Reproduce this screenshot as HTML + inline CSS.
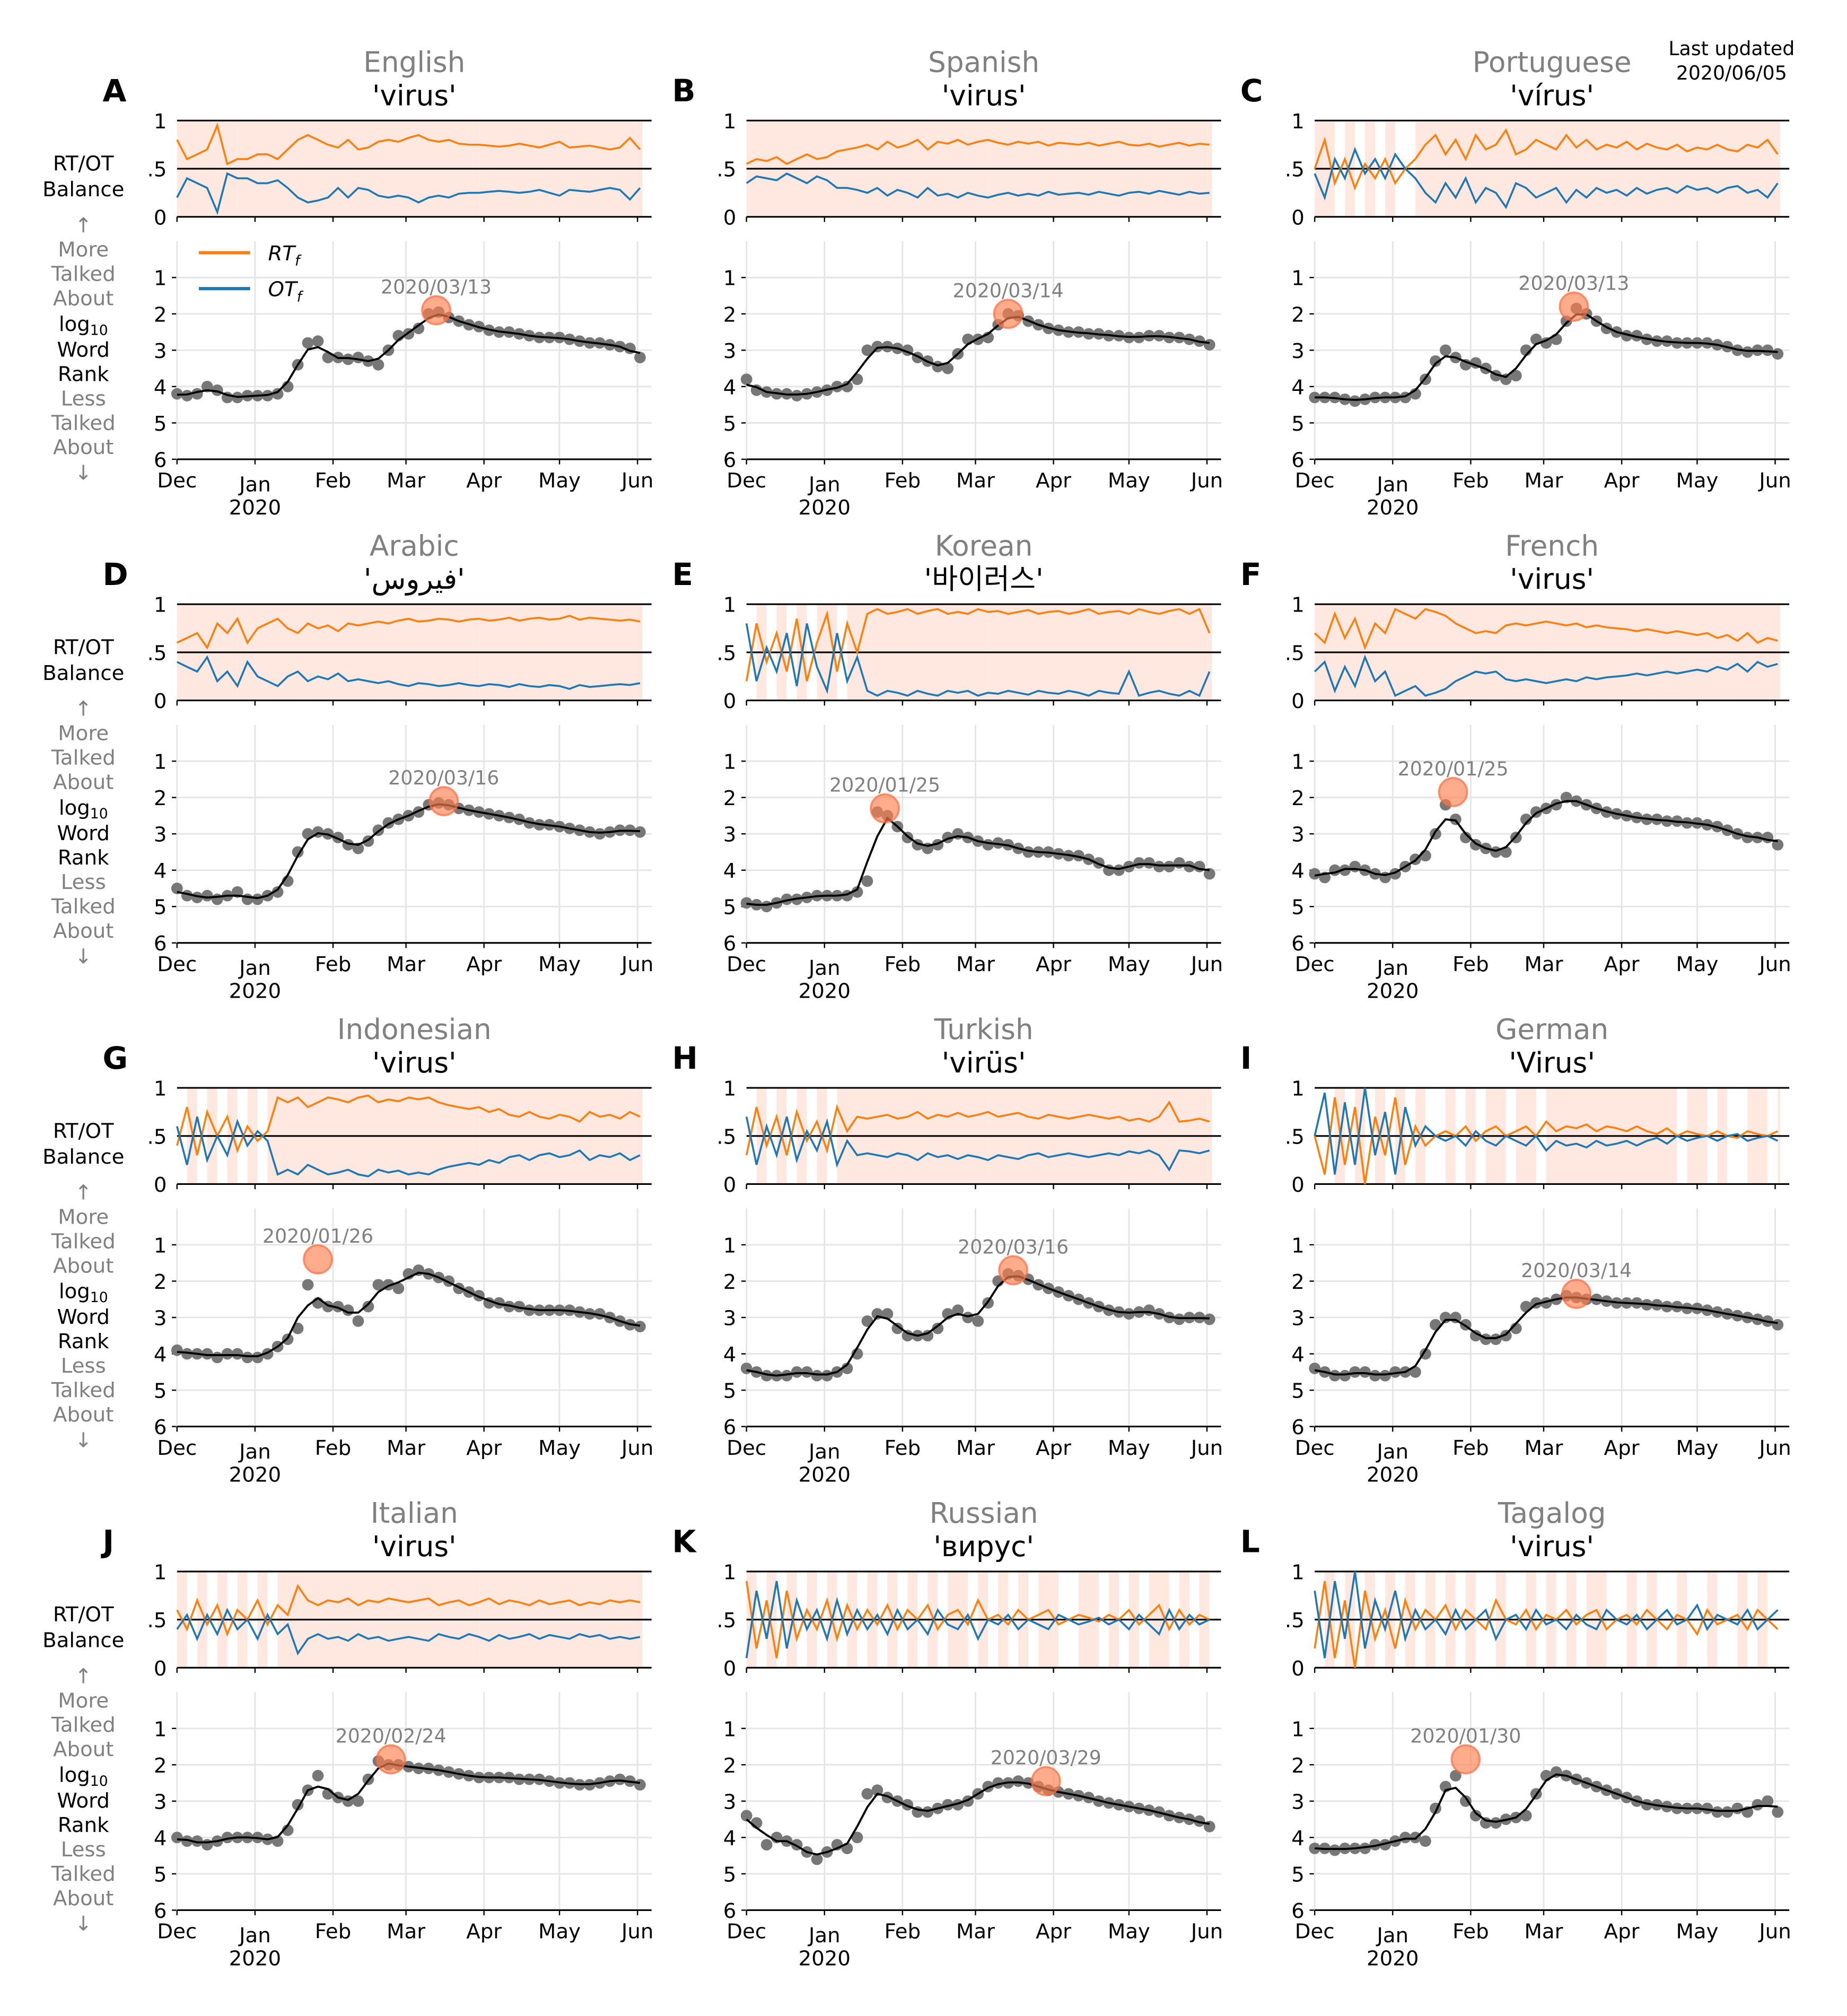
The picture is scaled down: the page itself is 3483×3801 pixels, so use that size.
<!DOCTYPE html>
<html><head><meta charset="utf-8"><style>
html,body{margin:0;padding:0;background:#fff;}
svg{display:block;font-family:"DejaVu Sans","Liberation Sans","Noto Sans CJK KR",sans-serif;}
</style></head><body>
<svg id="fig" xmlns="http://www.w3.org/2000/svg" width="3483" height="3801" viewBox="0 0 1440 1571.5">
<rect width="1440" height="1571.5" fill="#fff"/>
<text x="1350" y="43" font-size="15" text-anchor="middle">Last updated</text>
<text x="1350" y="62" font-size="15" text-anchor="middle">2020/06/05</text>
</svg>
<script>
const panelLetters=["A","B","C","D","E","F","G","H","I","J","K","L"];
const languages=["English","Spanish","Portuguese","Arabic","Korean","French","Indonesian","Turkish","German","Italian","Russian","Tagalog"];
const words=["'virus'","'virus'","'vírus'","'فيروس'","'바이러스'","'virus'","'virus'","'virüs'","'Virus'","'virus'","'вирус'","'virus'"];
const peakDates=["2020/03/13","2020/03/14","2020/03/13","2020/03/16","2020/01/25","2020/01/25","2020/01/26","2020/03/16","2020/03/14","2020/02/24","2020/03/29","2020/01/30"];
const peakDays=[103,104,103,106,55,55,56,106,104,85,119,60];
const peakRanks=[1.9,2.0,1.8,2.1,2.3,1.85,1.4,1.7,2.35,1.85,2.45,1.85];
const sampleStepDays=4;
const monthLabels=["Dec","Jan","Feb","Mar","Apr","May","Jun"];
const monthDays=[0,31,62,91,122,152,183];
const rankTicks=[1,2,3,4,5,6];
const balanceTicks=[1,0.5,0];
const balanceTickLabels=["1",".5","0"];
const rankA=[4.2,4.25,4.2,4.0,4.1,4.3,4.3,4.25,4.25,4.25,4.2,4.0,3.4,2.8,2.75,3.2,3.2,3.25,3.2,3.3,3.4,3.0,2.6,2.55,2.4,2.0,1.95,2.1,2.2,2.3,2.35,2.45,2.5,2.5,2.55,2.6,2.65,2.65,2.65,2.7,2.75,2.8,2.8,2.85,2.9,2.95,3.2];
const rankB=[3.8,4.1,4.15,4.2,4.2,4.25,4.2,4.15,4.1,4.0,4.0,3.8,3.0,2.9,2.9,2.95,3.0,3.2,3.3,3.45,3.5,3.1,2.7,2.7,2.65,2.3,2.0,2.05,2.2,2.3,2.4,2.45,2.5,2.5,2.55,2.55,2.6,2.6,2.65,2.65,2.6,2.6,2.65,2.65,2.7,2.75,2.85];
const rankC=[4.3,4.3,4.3,4.35,4.4,4.35,4.3,4.3,4.3,4.3,4.2,3.8,3.3,3.0,3.2,3.4,3.35,3.5,3.7,3.8,3.7,3.0,2.7,2.8,2.7,2.2,1.85,2.0,2.2,2.4,2.5,2.6,2.6,2.7,2.75,2.75,2.8,2.8,2.8,2.8,2.85,2.9,3.0,3.05,3.0,3.0,3.1];
const rankD=[4.5,4.7,4.75,4.7,4.8,4.7,4.6,4.8,4.8,4.7,4.6,4.3,3.5,3.0,2.95,3.0,3.1,3.3,3.4,3.2,2.9,2.7,2.6,2.5,2.4,2.2,2.15,2.2,2.3,2.35,2.4,2.45,2.5,2.55,2.6,2.7,2.75,2.75,2.8,2.85,2.9,2.95,3.0,2.95,2.9,2.9,2.95];
const rankE=[4.9,4.95,5.0,4.9,4.8,4.8,4.75,4.7,4.7,4.7,4.7,4.6,4.3,2.4,2.5,2.8,3.1,3.3,3.4,3.3,3.1,3.0,3.1,3.2,3.3,3.25,3.3,3.4,3.5,3.5,3.5,3.55,3.6,3.6,3.7,3.8,4.0,4.0,3.9,3.8,3.8,3.9,3.9,3.8,3.9,3.9,4.1];
const rankF=[4.1,4.2,4.0,4.0,3.9,4.0,4.1,4.2,4.1,3.9,3.7,3.6,3.0,2.2,2.6,3.1,3.3,3.4,3.5,3.5,3.1,2.6,2.4,2.3,2.2,2.0,2.1,2.2,2.3,2.4,2.45,2.5,2.55,2.6,2.6,2.65,2.65,2.7,2.7,2.75,2.8,2.9,3.0,3.1,3.1,3.1,3.3];
const rankG=[3.9,4.0,4.0,4.0,4.1,4.0,4.0,4.1,4.1,4.0,3.8,3.6,3.3,2.1,2.6,2.7,2.7,2.8,3.1,2.7,2.1,2.1,2.2,1.8,1.7,1.8,1.9,2.0,2.2,2.3,2.4,2.6,2.6,2.7,2.7,2.8,2.8,2.8,2.8,2.8,2.85,2.9,2.9,3.0,3.1,3.2,3.25];
const rankH=[4.4,4.5,4.6,4.6,4.6,4.5,4.5,4.6,4.6,4.5,4.4,4.0,3.1,2.9,2.9,3.3,3.5,3.5,3.5,3.3,2.9,2.8,3.0,3.1,2.6,2.0,1.8,1.85,1.95,2.1,2.2,2.3,2.4,2.5,2.6,2.7,2.8,2.85,2.9,2.85,2.8,2.9,3.0,3.05,3.0,3.0,3.05];
const rankI=[4.4,4.5,4.6,4.6,4.5,4.5,4.6,4.6,4.5,4.5,4.5,4.0,3.2,3.0,3.0,3.2,3.5,3.6,3.6,3.5,3.3,2.7,2.6,2.6,2.5,2.4,2.45,2.5,2.5,2.55,2.6,2.6,2.6,2.65,2.65,2.7,2.7,2.75,2.75,2.8,2.85,2.9,2.95,3.0,3.05,3.1,3.2];
const rankJ=[4.0,4.1,4.1,4.2,4.1,4.0,4.0,4.0,4.0,4.05,4.1,3.8,3.1,2.7,2.3,2.8,2.9,3.0,3.0,2.4,1.9,2.0,2.0,2.05,2.1,2.1,2.15,2.2,2.25,2.3,2.35,2.35,2.35,2.35,2.4,2.4,2.4,2.45,2.5,2.5,2.55,2.55,2.5,2.45,2.4,2.45,2.55];
const rankK=[3.4,3.6,4.2,4.0,4.1,4.2,4.4,4.6,4.4,4.2,4.3,4.0,2.8,2.7,2.9,3.0,3.1,3.3,3.3,3.2,3.1,3.1,3.0,2.8,2.6,2.5,2.5,2.45,2.5,2.6,2.7,2.75,2.8,2.85,2.9,3.0,3.05,3.1,3.15,3.2,3.25,3.3,3.4,3.45,3.5,3.55,3.7];
const rankL=[4.3,4.3,4.35,4.3,4.3,4.3,4.2,4.2,4.1,4.0,4.0,4.1,3.2,2.6,2.3,3.0,3.4,3.6,3.6,3.5,3.45,3.4,2.8,2.3,2.2,2.3,2.4,2.5,2.6,2.7,2.8,2.9,3.0,3.1,3.1,3.15,3.2,3.2,3.2,3.2,3.3,3.3,3.2,3.3,3.1,3.0,3.3];
const rtA=[0.8,0.6,0.65,0.7,0.95,0.55,0.6,0.6,0.65,0.65,0.6,0.7,0.8,0.85,0.8,0.75,0.72,0.8,0.7,0.72,0.78,0.8,0.78,0.82,0.85,0.8,0.78,0.8,0.76,0.75,0.75,0.74,0.73,0.74,0.76,0.74,0.72,0.75,0.78,0.72,0.73,0.74,0.72,0.7,0.72,0.82,0.7];
const otA=[0.2,0.4,0.35,0.3,0.05,0.45,0.4,0.4,0.35,0.35,0.38,0.3,0.2,0.15,0.17,0.2,0.3,0.2,0.3,0.28,0.22,0.2,0.22,0.2,0.15,0.2,0.22,0.2,0.24,0.25,0.25,0.26,0.27,0.26,0.25,0.26,0.28,0.25,0.22,0.28,0.27,0.26,0.28,0.3,0.28,0.18,0.3];
const rtB=[0.55,0.6,0.58,0.62,0.55,0.6,0.65,0.6,0.62,0.68,0.7,0.72,0.75,0.7,0.78,0.72,0.75,0.8,0.7,0.78,0.76,0.8,0.75,0.78,0.8,0.77,0.75,0.78,0.76,0.78,0.74,0.77,0.76,0.75,0.77,0.74,0.76,0.78,0.75,0.74,0.76,0.73,0.75,0.77,0.74,0.76,0.75];
const otB=[0.35,0.42,0.4,0.38,0.45,0.4,0.35,0.42,0.38,0.3,0.3,0.28,0.25,0.3,0.22,0.28,0.25,0.2,0.3,0.22,0.24,0.2,0.25,0.22,0.2,0.23,0.25,0.22,0.24,0.22,0.26,0.23,0.24,0.25,0.23,0.26,0.24,0.22,0.25,0.26,0.24,0.27,0.25,0.23,0.26,0.24,0.25];
const rtC=[0.5,0.8,0.35,0.6,0.3,0.55,0.4,0.6,0.35,0.5,0.6,0.75,0.85,0.65,0.8,0.6,0.85,0.7,0.75,0.9,0.65,0.7,0.8,0.75,0.7,0.85,0.72,0.8,0.7,0.75,0.72,0.78,0.7,0.76,0.72,0.7,0.75,0.68,0.72,0.7,0.75,0.7,0.68,0.75,0.72,0.8,0.65];
const otC=[0.45,0.2,0.6,0.4,0.7,0.45,0.6,0.4,0.65,0.5,0.4,0.25,0.15,0.35,0.2,0.4,0.15,0.3,0.25,0.1,0.35,0.3,0.2,0.25,0.3,0.15,0.28,0.2,0.3,0.25,0.28,0.22,0.3,0.24,0.28,0.3,0.25,0.32,0.28,0.3,0.25,0.3,0.32,0.25,0.28,0.2,0.35];
const rtD=[0.6,0.65,0.7,0.55,0.8,0.7,0.85,0.6,0.75,0.8,0.85,0.75,0.7,0.8,0.75,0.78,0.72,0.8,0.78,0.8,0.82,0.8,0.83,0.85,0.82,0.83,0.85,0.84,0.82,0.84,0.85,0.83,0.84,0.86,0.83,0.85,0.86,0.84,0.85,0.88,0.84,0.86,0.85,0.84,0.83,0.84,0.82];
const otD=[0.4,0.35,0.3,0.45,0.2,0.3,0.15,0.4,0.25,0.2,0.15,0.25,0.3,0.2,0.25,0.22,0.28,0.2,0.22,0.2,0.18,0.2,0.17,0.15,0.18,0.17,0.15,0.16,0.18,0.16,0.15,0.17,0.16,0.14,0.17,0.15,0.14,0.16,0.15,0.12,0.16,0.14,0.15,0.16,0.17,0.16,0.18];
const rtE=[0.2,0.8,0.4,0.7,0.3,0.85,0.2,0.6,0.9,0.3,0.8,0.5,0.9,0.95,0.9,0.92,0.95,0.9,0.93,0.95,0.9,0.92,0.9,0.95,0.92,0.93,0.9,0.92,0.94,0.9,0.92,0.93,0.9,0.92,0.95,0.9,0.92,0.93,0.9,0.95,0.92,0.9,0.93,0.95,0.9,0.95,0.7];
const otE=[0.8,0.2,0.55,0.3,0.7,0.15,0.8,0.35,0.1,0.7,0.2,0.45,0.1,0.05,0.1,0.08,0.05,0.1,0.07,0.05,0.1,0.08,0.1,0.05,0.08,0.07,0.1,0.08,0.06,0.1,0.08,0.07,0.1,0.08,0.05,0.1,0.08,0.07,0.3,0.05,0.08,0.1,0.07,0.05,0.1,0.05,0.3];
const rtF=[0.7,0.6,0.9,0.65,0.85,0.55,0.8,0.7,0.95,0.9,0.85,0.95,0.92,0.88,0.8,0.75,0.7,0.72,0.7,0.78,0.8,0.78,0.8,0.82,0.8,0.78,0.8,0.76,0.78,0.76,0.75,0.74,0.72,0.74,0.72,0.7,0.72,0.7,0.68,0.7,0.65,0.68,0.62,0.7,0.6,0.65,0.62];
const otF=[0.3,0.4,0.1,0.35,0.15,0.45,0.2,0.3,0.05,0.1,0.15,0.05,0.08,0.12,0.2,0.25,0.3,0.28,0.3,0.22,0.2,0.22,0.2,0.18,0.2,0.22,0.2,0.24,0.22,0.24,0.25,0.26,0.28,0.26,0.28,0.3,0.28,0.3,0.32,0.3,0.35,0.32,0.38,0.3,0.4,0.35,0.38];
const rtG=[0.4,0.8,0.3,0.75,0.5,0.7,0.35,0.6,0.45,0.55,0.9,0.85,0.9,0.8,0.85,0.9,0.88,0.85,0.9,0.92,0.85,0.88,0.86,0.9,0.88,0.9,0.85,0.82,0.8,0.78,0.8,0.75,0.78,0.72,0.7,0.75,0.7,0.68,0.72,0.7,0.65,0.75,0.7,0.72,0.68,0.75,0.7];
const otG=[0.6,0.2,0.7,0.25,0.5,0.3,0.65,0.4,0.55,0.45,0.1,0.15,0.1,0.2,0.15,0.1,0.12,0.15,0.1,0.08,0.15,0.12,0.14,0.1,0.12,0.1,0.15,0.18,0.2,0.22,0.2,0.25,0.22,0.28,0.3,0.25,0.3,0.32,0.28,0.3,0.35,0.25,0.3,0.28,0.32,0.25,0.3];
const rtH=[0.3,0.8,0.4,0.7,0.3,0.75,0.45,0.65,0.35,0.8,0.55,0.7,0.68,0.7,0.72,0.68,0.7,0.75,0.68,0.72,0.7,0.74,0.7,0.72,0.75,0.7,0.72,0.74,0.7,0.68,0.72,0.7,0.68,0.7,0.72,0.7,0.68,0.7,0.66,0.68,0.65,0.7,0.85,0.65,0.66,0.68,0.65];
const otH=[0.7,0.2,0.6,0.3,0.7,0.25,0.55,0.35,0.65,0.2,0.45,0.3,0.32,0.3,0.28,0.32,0.3,0.25,0.32,0.28,0.3,0.26,0.3,0.28,0.25,0.3,0.28,0.26,0.3,0.32,0.28,0.3,0.32,0.3,0.28,0.3,0.32,0.3,0.34,0.32,0.35,0.3,0.15,0.35,0.34,0.32,0.35];
const rtI=[0.5,0.1,0.9,0.2,0.8,0.0,0.7,0.3,0.9,0.2,0.6,0.4,0.5,0.55,0.5,0.6,0.45,0.55,0.6,0.5,0.55,0.6,0.5,0.65,0.55,0.6,0.58,0.62,0.55,0.6,0.58,0.55,0.6,0.55,0.52,0.58,0.5,0.55,0.52,0.5,0.55,0.5,0.48,0.55,0.52,0.5,0.55];
const otI=[0.5,0.95,0.1,0.85,0.2,1.0,0.3,0.75,0.1,0.8,0.4,0.6,0.5,0.45,0.5,0.4,0.55,0.45,0.4,0.5,0.45,0.4,0.5,0.35,0.45,0.4,0.42,0.38,0.45,0.4,0.42,0.45,0.4,0.45,0.48,0.42,0.5,0.45,0.48,0.5,0.45,0.5,0.52,0.45,0.48,0.5,0.45];
const rtJ=[0.6,0.4,0.7,0.45,0.65,0.35,0.6,0.5,0.7,0.45,0.65,0.55,0.85,0.7,0.65,0.7,0.68,0.72,0.65,0.7,0.68,0.72,0.7,0.68,0.7,0.72,0.65,0.68,0.7,0.65,0.68,0.72,0.66,0.7,0.68,0.65,0.7,0.66,0.68,0.7,0.65,0.68,0.66,0.7,0.68,0.7,0.68];
const otJ=[0.4,0.55,0.3,0.55,0.35,0.6,0.4,0.5,0.3,0.55,0.35,0.45,0.15,0.3,0.35,0.3,0.32,0.28,0.35,0.3,0.32,0.28,0.3,0.32,0.3,0.28,0.35,0.32,0.3,0.35,0.32,0.28,0.34,0.3,0.32,0.35,0.3,0.34,0.32,0.3,0.35,0.32,0.34,0.3,0.32,0.3,0.32];
const rtK=[0.9,0.2,0.7,0.1,0.8,0.3,0.6,0.4,0.7,0.3,0.65,0.4,0.6,0.45,0.65,0.4,0.6,0.5,0.65,0.4,0.55,0.6,0.45,0.7,0.5,0.55,0.45,0.6,0.5,0.55,0.6,0.45,0.5,0.55,0.52,0.48,0.55,0.5,0.6,0.45,0.55,0.65,0.4,0.6,0.45,0.55,0.5];
const otK=[0.1,0.8,0.3,0.9,0.2,0.7,0.4,0.6,0.3,0.7,0.35,0.6,0.4,0.55,0.35,0.6,0.4,0.5,0.35,0.6,0.45,0.4,0.55,0.3,0.5,0.45,0.55,0.4,0.5,0.45,0.4,0.55,0.5,0.45,0.48,0.52,0.45,0.5,0.4,0.55,0.45,0.35,0.6,0.4,0.55,0.45,0.5];
const rtL=[0.2,0.9,0.1,0.7,0.0,0.8,0.3,0.6,0.2,0.7,0.4,0.6,0.5,0.65,0.4,0.6,0.5,0.4,0.7,0.5,0.45,0.6,0.4,0.55,0.5,0.6,0.45,0.55,0.6,0.4,0.5,0.55,0.45,0.6,0.5,0.4,0.55,0.5,0.35,0.6,0.45,0.5,0.55,0.4,0.6,0.5,0.4];
const otL=[0.8,0.1,0.9,0.3,1.0,0.2,0.7,0.4,0.8,0.3,0.6,0.4,0.5,0.35,0.6,0.4,0.5,0.6,0.3,0.5,0.55,0.4,0.6,0.45,0.5,0.4,0.55,0.45,0.4,0.6,0.5,0.45,0.55,0.4,0.5,0.6,0.45,0.5,0.65,0.4,0.55,0.5,0.45,0.6,0.4,0.5,0.6];
const rankSeries=[rankA,rankB,rankC,rankD,rankE,rankF,rankG,rankH,rankI,rankJ,rankK,rankL];
const rtSeries=[rtA,rtB,rtC,rtD,rtE,rtF,rtG,rtH,rtI,rtJ,rtK,rtL];
const otSeries=[otA,otB,otC,otD,otE,otF,otG,otH,otI,otJ,otK,otL];

const NS="http://www.w3.org/2000/svg";
const svg=document.getElementById('fig');
function mk(tag,attrs,parent){const e=document.createElementNS(NS,tag);for(const k in attrs)e.setAttribute(k,attrs[k]);(parent||svg).appendChild(e);return e;}
const colLeft=[138,582,1025], W=370, rowStep=377;
const DAYS_SPAN=188.6;
for(let p=0;p<12;p++){
  const r=Math.floor(p/3), c=p%3;
  const L=colLeft[c], oy=r*rowStep;
  const bTop=94+oy, bBot=169+oy, rTop=188+oy, rBot=358+oy;
  const xS=d=>L+d/DAYS_SPAN*W;
  const yB=v=>bBot-v*(bBot-bTop);
  const yR=v=>rTop+v*(rBot-rTop)/6;
  const g=mk('g',{});
  
  
  let t=mk('text',{x:L+W/2,y:56+oy,'font-size':22,fill:'#808080','text-anchor':'middle'},g);t.textContent=languages[p];
  
  
  t=mk('text',{x:L+W/2,y:82+oy,'font-size':22,fill:'#000','text-anchor':'middle'},g);t.textContent=words[p];
  
  
  t=mk('text',{x:L-58,y:79+oy,'font-size':24,'font-weight':'bold','text-anchor':'start'},g);t.textContent=panelLetters[p];
  
  
  const rt=rtSeries[p], ot=otSeries[p], rk=rankSeries[p];
  const sh=mk('g',{},g);
  
  
  for(let i=0;i<rt.length;i++){
    if(rt[i]>ot[i]){
      const x0=xS(i*sampleStepDays), x1=xS(Math.min((i+1)*sampleStepDays,185));
      const b=mk('rect',{x:x0,y:bTop,width:Math.max(0,x1-x0),height:bBot-bTop,fill:'#fee8df'},sh);
      
      
    }
  }
  [[1,'balance-top-line'],[0.5,'balance-mid-line'],[0,'balance-bottom-line']].forEach(([v,n])=>{
    const ln=mk('line',{x1:L,x2:L+W,y1:yB(v),y2:yB(v),stroke:'#000','stroke-width':1.3},g);
    
    
  });
  balanceTicks.forEach((v,i)=>{
    const tt=mk('text',{x:L-8,y:yB(v)+6,'font-size':16,'text-anchor':'end'},g);tt.textContent=balanceTickLabels[i];
    
    
  });
  monthDays.forEach(d=>{mk('line',{x1:xS(d),x2:xS(d),y1:bBot,y2:bBot+4,stroke:'#000','stroke-width':1},g);});
  const path=(arr,fx,fy)=>arr.map((v,i)=>(i?'L':'M')+fx(i).toFixed(1)+' '+fy(v).toFixed(1)).join(' ');
  let pl=mk('path',{d:path(rt,i=>xS(i*sampleStepDays),yB),fill:'none',stroke:'#ff7f0e','stroke-width':1.5},g);
  
  
  pl=mk('path',{d:path(ot,i=>xS(i*sampleStepDays),yB),fill:'none',stroke:'#1f77b4','stroke-width':1.5},g);
  
  
  rankTicks.forEach(v=>{
    if(v<6){mk('line',{x1:L,x2:L+W,y1:yR(v),y2:yR(v),stroke:'#e5e5e5','stroke-width':1.2},g);}
    mk('line',{x1:L-4,x2:L,y1:yR(v),y2:yR(v),stroke:'#000','stroke-width':1},g);
    const tt=mk('text',{x:L-8,y:yR(v)+6,'font-size':16,'text-anchor':'end'},g);tt.textContent=String(v);
    
    
  });
  monthDays.forEach((d,i)=>{
    mk('line',{x1:xS(d),x2:xS(d),y1:rTop,y2:rBot,stroke:'#e5e5e5','stroke-width':1.2},g);
    mk('line',{x1:xS(d),x2:xS(d),y1:rBot,y2:rBot+4,stroke:'#000','stroke-width':1},g);
    const tt=mk('text',{x:xS(d),y:rBot+(i===1?25:22),'font-size':16,'text-anchor':'middle'},g);tt.textContent=monthLabels[i];
    
    
  });
  let yr=mk('text',{x:xS(31),y:rBot+43,'font-size':16,'text-anchor':'middle'},g);yr.textContent='2020';
  
  
  const ax=mk('line',{x1:L,x2:L+W,y1:rBot,y2:rBot,stroke:'#000','stroke-width':1.3},g);
  
  
  const dg=mk('g',{},g);
  
  
  rk.forEach((v,i)=>{
    const ci=mk('circle',{cx:xS(i*sampleStepDays),cy:yR(v),r:4.5,fill:'#777'},dg);
    
    
  });
  const sm=rk.map((v,i)=>{let s=0,n=0;for(let k=i-1;k<=i+1;k++){if(k>=0&&k<rk.length){s+=rk[k];n++;}}return s/n;});
  pl=mk('path',{d:path(sm,i=>xS(i*sampleStepDays),v=>yR(v)),fill:'none',stroke:'#000','stroke-width':1.6},g);
  
  
  const pk=mk('circle',{cx:xS(peakDays[p]),cy:yR(peakRanks[p]),r:11,fill:'#ff7f50','fill-opacity':0.65,stroke:'#ff6a3d','stroke-opacity':0.7,'stroke-width':1.5},g);
  
  
  const pt=mk('text',{x:xS(peakDays[p]),y:yR(peakRanks[p])-13,'font-size':15,fill:'#808080','text-anchor':'middle'},g);pt.textContent=peakDates[p];
  
  
  if(c===0){
    const lab=[["RT/OT",133,'#000'],["Balance",153,'#000'],["↑",181,'#808080'],["More",200,'#808080'],["Talked",219,'#808080'],["About",238,'#808080'],["log",258,'#000'],["Word",278,'#000'],["Rank",297,'#000'],["Less",316,'#808080'],["Talked",335,'#808080'],["About",354,'#808080'],["↓",374,'#808080']];
    lab.forEach(([s,y,col])=>{
      const tt=mk('text',{x:65,y:y+oy,'font-size':16,fill:col,'text-anchor':'middle'},g);
      if(s==="log"){tt.textContent="log";const sub=mk('tspan',{'font-size':11,dy:3},tt);sub.textContent="10";}
      else tt.textContent=s;
      
      
    });
  }
  if(p===0){
    const lg=mk('g',{},g);
    
    
    mk('line',{x1:155,x2:195,y1:197,y2:197,stroke:'#ff7f0e','stroke-width':2.5},lg);
    mk('line',{x1:155,x2:195,y1:225,y2:225,stroke:'#1f77b4','stroke-width':2.5},lg);
    let e=mk('text',{x:209,y:203,'font-size':16,'font-style':'italic'},lg);e.textContent='RT';
    mk('tspan',{'font-size':11,dy:4},e).textContent='f';
    
    
    e=mk('text',{x:209,y:231,'font-size':16,'font-style':'italic'},lg);e.textContent='OT';
    mk('tspan',{'font-size':11,dy:4},e).textContent='f';
    
    
  }
}
</script>
</body></html>
